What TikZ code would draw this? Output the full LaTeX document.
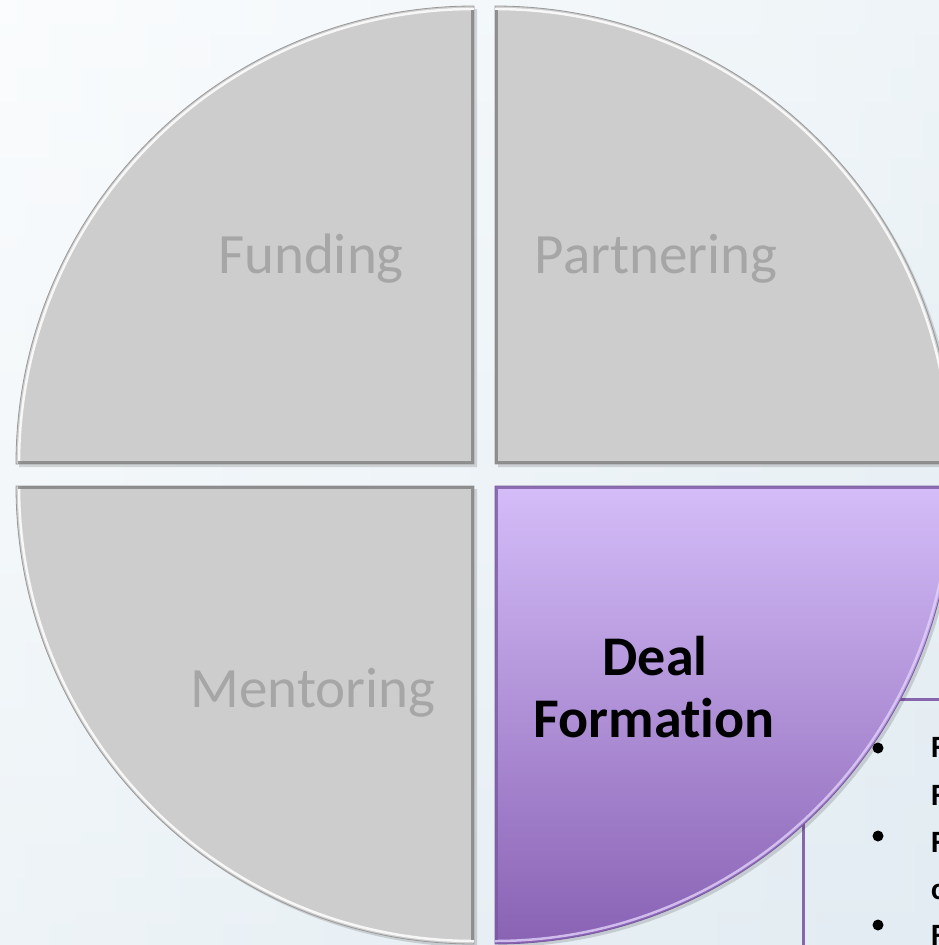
\documentclass[tikz,border=0pt]{standalone}
\usepackage{fontspec}
\setmainfont{Carlito}[Ligatures=NoCommon]
\definecolor{bgtop}{HTML}{F7FAFC}
\definecolor{bgbot}{HTML}{E2ECF2}
\definecolor{quadgray}{HTML}{CDCDCD}
\definecolor{edgegray}{HTML}{808080}
\definecolor{labelgray}{HTML}{A6A6A6}
\definecolor{purptop}{HTML}{D4BDF8}
\definecolor{purpbot}{HTML}{8962B4}
\definecolor{purpedge}{HTML}{7A5AA0}
\definecolor{boxpurple}{HTML}{8766AE}
\tikzset{
  quadshadow/.style={fill=black, opacity=0.14},
  quadfill/.style={fill=quadgray, draw=edgegray!80, line width=0.8},
  archigh/.style={draw=white, line width=2.5, opacity=0.85},
  straightedge/.style={draw=edgegray, line width=2.5, opacity=0.8},
  purpedgeline/.style={draw=purpedge, line width=2.5, opacity=0.8},
  graylabel/.style={text=labelgray, font=\fontsize{57}{62}\selectfont, inner sep=0pt, anchor=base},
  deallabel/.style={text=black, font=\fontsize{56}{62}\selectfont\bfseries, inner sep=0pt, anchor=base},
  bulletdot/.style={circle, fill=black, inner sep=0pt, minimum size=11pt},
  bullettext/.style={font=\fontsize{31}{35}\selectfont\bfseries, inner sep=0pt, anchor=base west}
}
\begin{document}
\begin{tikzpicture}[x=1pt,y=-1pt]
\useasboundingbox (0,0) rectangle (939,945);
\clip (0,0) rectangle (939,945);
% background
\shade[top color=bgtop, bottom color=bgbot] (0,0) rectangle (939,945);
\shade[left color=white, right color=bgbot, opacity=0.4] (0,0) rectangle (939,945);

% text box behind purple quadrant
\draw[boxpurple, line width=3] (803,699) rectangle (980,990);

% shadows
\fill[quadshadow] (477,467) -- (19,467) arc[start angle=180, end angle=270, radius=458] -- cycle;
\fill[quadshadow] (498,467) -- (498,9) arc[start angle=270, end angle=360, radius=458] -- cycle;
\fill[quadshadow] (477,489) -- (477,947) arc[start angle=90, end angle=180, radius=458] -- cycle;
\fill[quadshadow] (498,489) -- (956,489) arc[start angle=0, end angle=90, radius=458] -- cycle;

% top-left quadrant
\path[quadfill] (474,464) -- (16,464) arc[start angle=180, end angle=270, radius=458] -- cycle;
\draw[archigh] ([shift={(180:455)}]474,464) arc[start angle=180, end angle=270, radius=455];
\draw[straightedge] (472.5,10) -- (472.5,462.5) -- (18,462.5);
% top-right quadrant
\path[quadfill] (495,464) -- (495,6) arc[start angle=270, end angle=360, radius=458] -- cycle;
\draw[archigh] ([shift={(270:455)}]495,464) arc[start angle=270, end angle=360, radius=455];
\draw[straightedge] (496.5,10) -- (496.5,462.5) -- (950,462.5);
% bottom-left quadrant
\path[quadfill] (474,486) -- (474,944) arc[start angle=90, end angle=180, radius=458] -- cycle;
\draw[archigh] ([shift={(90:455)}]474,486) arc[start angle=90, end angle=180, radius=455];
\draw[straightedge] (18,487.5) -- (472.5,487.5) -- (472.5,940);
% bottom-right quadrant (purple)
\shade[top color=purptop, bottom color=purpbot, draw=purpedge, line width=0.8]
  (495,486) -- (953,486) arc[start angle=0, end angle=90, radius=458] -- cycle;
\draw[draw=purptop!70!white, line width=2.5, opacity=0.8] ([shift={(0:455)}]495,486) arc[start angle=0, end angle=90, radius=455];
\draw[purpedgeline] (950,487.5) -- (496.5,487.5) -- (496.5,940);

% labels
\node[graylabel] (funding) at (311,273) {Funding};
\node[graylabel] (partnering) at (656,273) {Partnering};
\node[graylabel] (mentoring) at (313,707) {Mentoring};
\node[deallabel] (deal) at (655,675) {Deal};
\node[deallabel] (formation) at (654,737) {Formation};

% bullet list (clipped at the right edge, as in the reference)
\node[bulletdot] (b1) at (878,748) {};
\node[bulletdot] (b2) at (878,836) {};
\node[bulletdot] (b3) at (878,925) {};
\node[bullettext] (t1) at (931,757) {F};
\node[bullettext] (t2) at (931,805) {F};
\node[bullettext] (t3) at (931,852) {F};
\node[bullettext] (t4) at (931,899) {c};
\node[bullettext] (t5) at (931,945) {F};
\end{tikzpicture}
\end{document}
